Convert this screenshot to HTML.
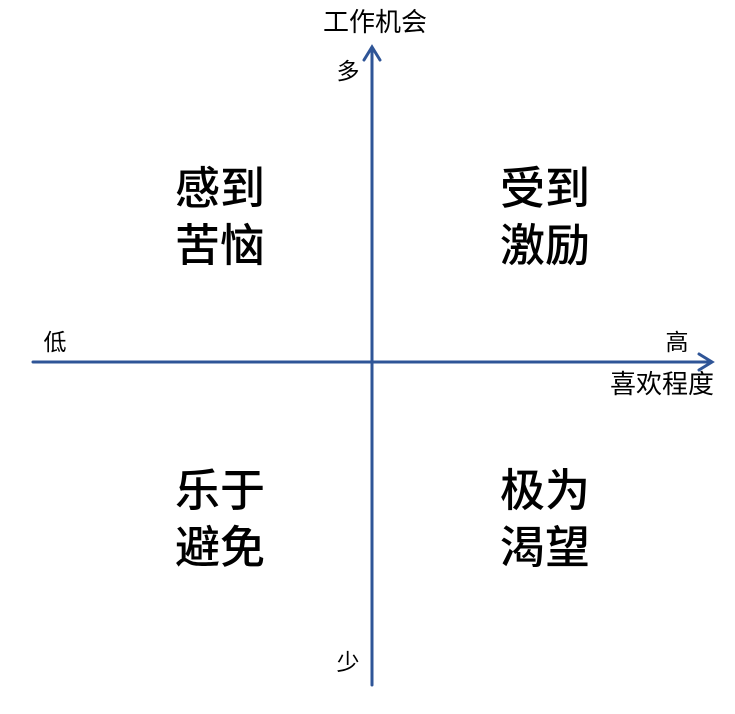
<!DOCTYPE html>
<html><head><meta charset="utf-8"><style>
body{margin:0;background:#fff;}
</style></head><body>
<svg width="735" height="714" xmlns="http://www.w3.org/2000/svg" style="display:block">
<g stroke="#2f5597" stroke-width="3" fill="none" stroke-linecap="round">
<line x1="372" y1="49" x2="372" y2="685"/>
<polyline points="364,60 372,47 380,60"/>
<line x1="33" y1="362" x2="710" y2="362"/>
<polyline points="699,354 712,362 699,370"/>
</g>
<g font-family="Liberation Sans, Noto Sans CJK SC, sans-serif" fill="#000" text-anchor="middle">
<text x="375" y="31" font-size="26">工作机会</text>
<text x="348" y="79" font-size="23">多</text>
<text x="348" y="670" font-size="23">少</text>
<text x="55" y="350" font-size="23">低</text>
<text x="677" y="350" font-size="23">高</text>
<text x="662" y="393" font-size="26">喜欢程度</text>
<g font-size="45" font-weight="500">
<text x="220" y="204">感到</text>
<text x="220" y="261">苦恼</text>
<text x="545" y="204">受到</text>
<text x="545" y="261">激励</text>
<text x="220" y="506">乐于</text>
<text x="220" y="563">避免</text>
<text x="545" y="506">极为</text>
<text x="545" y="563">渴望</text>
</g>
</g>
</svg>
</body></html>
